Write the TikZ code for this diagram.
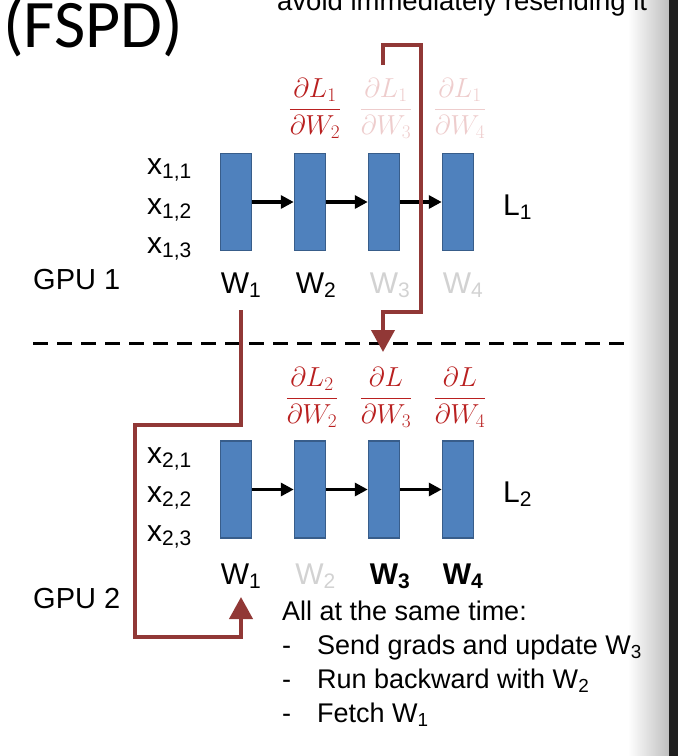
\RequirePackage{fix-cm}
\documentclass[tikz,border=0pt]{standalone}
\usepackage[no-math]{fontspec}
\setmainfont{Liberation Sans}
\newfontfamily\titlefont{Carlito}
\usetikzlibrary{arrows.meta,positioning}
\definecolor{Box}{RGB}{79,129,189}
\definecolor{BoxEdge}{RGB}{56,93,138}
\definecolor{Grad}{RGB}{185,32,32}
\definecolor{GradFaint}{RGB}{238,205,205}
\definecolor{Send}{RGB}{145,56,54}
\definecolor{Faint}{RGB}{210,210,210}

\begin{document}
\begin{tikzpicture}[
    x=1pt, y=-1pt,
    wbox/.style={draw=BoxEdge, fill=Box, line width=1.5pt, minimum width=31pt, minimum height=97pt, inner sep=0pt},
    fwd/.style={-{Triangle[length=13pt,width=13pt]}, line width=3.5pt},
    sendline/.style={Send, line width=4pt, -{Triangle[length=22pt,width=23pt]}},
    txt/.style={inner sep=0pt, font=\fontsize{30}{30}\selectfont},
    gpu/.style={inner sep=0pt, anchor=base west, font=\fontsize{29}{29}\selectfont},
    note/.style={inner sep=0pt, anchor=base west, font=\fontsize{27}{27}\selectfont},
    frac/.style={inner sep=0pt, anchor=base, font=\fontsize{27.5}{27.5}\selectfont}
]
  \useasboundingbox (0,0) rectangle (678,756);
  \clip (0,0) rectangle (678,756);
  \shade[left color=white, right color=black!25] (628,0) rectangle (669,756);
  \fill[black!88] (669,0) rectangle (678,756);

  \node[inner sep=0pt, anchor=base west, font=\titlefont\fontsize{68}{68}\selectfont] (title) at (3,47) {(FSPD)};
  \node[note, font=\fontsize{27.5}{27.5}\selectfont] (hint) at (277,10) {avoid immediately resending it};

  \foreach \i/\x in {1/236,2/310,3/384,4/458} {
    \node[wbox] (u\i) at (\x,202) {};
    \node[wbox] (d\i) at (\x,489.5) {};
  }
  \foreach \i/\j in {1/2,2/3,3/4} {
    \draw[fwd] (u\i) -- (u\j);
    \draw[fwd] (d\i) -- (d\j);
  }

  \node[txt, anchor=base west] (x11) at (147,174) {x\textsubscript{1,1}};
  \node[txt, anchor=base west] (x12) at (147,214) {x\textsubscript{1,2}};
  \node[txt, anchor=base west] (x13) at (147,253) {x\textsubscript{1,3}};
  \node[txt, anchor=base west] (x21) at (147,463) {x\textsubscript{2,1}};
  \node[txt, anchor=base west] (x22) at (147,502) {x\textsubscript{2,2}};
  \node[txt, anchor=base west] (x23) at (147,541) {x\textsubscript{2,3}};

  \node[txt, anchor=base] (uw1) at (241,293) {W\textsubscript{1}};
  \node[txt, anchor=base] (uw2) at (316,293) {W\textsubscript{2}};
  \node[txt, anchor=base, Faint] (uw3) at (390,293) {W\textsubscript{3}};
  \node[txt, anchor=base, Faint] (uw4) at (463,293) {W\textsubscript{4}};
  \node[txt, anchor=base] (dw1) at (241,584) {W\textsubscript{1}};
  \node[txt, anchor=base, Faint] (dw2) at (315.5,584) {W\textsubscript{2}};
  \node[txt, anchor=base] (dw3) at (390,584) {\textbf{W\textsubscript{3}}};
  \node[txt, anchor=base] (dw4) at (463,584) {\textbf{W\textsubscript{4}}};

  \node[txt, anchor=base west] (l1) at (503,215) {L\textsubscript{1}};
  \node[txt, anchor=base west] (l2) at (503,502) {L\textsubscript{2}};

  \node[gpu] (gpu1) at (33,289) {GPU 1};
  \node[gpu] (gpu2) at (33,608) {GPU 2};

  \node[frac, Grad] (ug2) at (315,116) {$\displaystyle\frac{\partial L_1}{\partial W_2}$};
  \node[frac, GradFaint] (ug3) at (386,116) {$\displaystyle\frac{\partial L_1}{\partial W_3}$};
  \node[frac, GradFaint] (ug4) at (460,116) {$\displaystyle\frac{\partial L_1}{\partial W_4}$};
  \node[frac, Grad] (dg2) at (312,405) {$\displaystyle\frac{\partial L_2}{\partial W_2}$};
  \node[frac, Grad] (dg3) at (386,405) {$\displaystyle\frac{\partial L}{\partial W_3}$};
  \node[frac, Grad] (dg4) at (460,405) {$\displaystyle\frac{\partial L}{\partial W_4}$};

  \draw[line width=3pt, dash pattern=on 15pt off 9pt] (33,343) -- (630,343);

  \coordinate (a0) at (383,65);
  \coordinate (a1) at (383,352);
  \draw[sendline] (a0) |- (421,45) -- (421,312) -| (a1);

  \coordinate (b0) at (241,310);
  \coordinate (b1) at (241,597);
  \draw[sendline] (b0) -- (241,425) -| (135,637) -| (b1);

  \node[note] (note0) at (282,620) {All at the same time:};
  \node[note] (note1) at (282,654) {\makebox[35pt][l]{-}Send grads and update W\textsubscript{3}};
  \node[note] (note2) at (282,688) {\makebox[35pt][l]{-}Run backward with W\textsubscript{2}};
  \node[note] (note3) at (282,722) {\makebox[35pt][l]{-}Fetch W\textsubscript{1}};
\end{tikzpicture}
\end{document}
